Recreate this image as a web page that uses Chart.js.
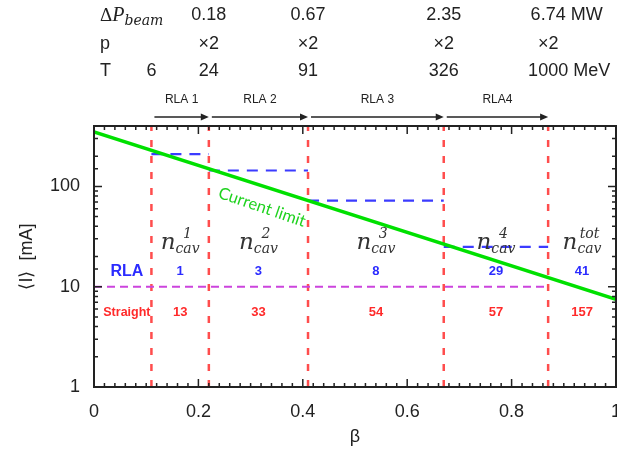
<!DOCTYPE html>
<html>
<head>
<meta charset="utf-8">
<script src="https://cdn.jsdelivr.net/npm/chart.js@4.4.0/dist/chart.umd.min.js"></script>
<style>
  html, body { margin: 0; padding: 0; background: #fff; overflow: hidden; }
  #wrap { position: relative; width: 660px; height: 457px; }
</style>
</head>
<body>
<div id="wrap"><canvas id="chart"></canvas></div>
<script>
// Data
const boundaries = [0.11, 0.22, 0.41, 0.67, 0.87]; // beta at the RLA edges
const energyT = ["6", "24", "91", "326", "1000"]; // T [MeV] at each edge
const beamPower = ["0.18", "0.67", "2.35", "6.74"]; // ΔP_beam [MW]
const momentumGain = ["×2", "×2", "×2", "×2"];
const rlaNames = ["RLA 1", "RLA 2", "RLA 3", "RLA4"];
const rlaCurrent = [210, 144, 72, 25]; // blue dashed levels [mA]
const limitBeta = [0, 1];
const limitCurrent = [350, 7.5]; // current limit [mA]
const straightCurrent = 10;
const cavSuffix = ["1", "2", "3", "4", "tot"];
const rlaCav = ["1", "3", "8", "29", "41"];
const straightCav = ["13", "33", "54", "57", "157"];
const xTickLabels = ["0", "0.2", "0.4", "0.6", "0.8", "1"];
const yTickLabels = ["1", "10", "100"];
const yMin = 1;
const yMax = 400;

const SANS = "'Liberation Sans', Arial, sans-serif";

function isLabelled(list, v) {
  return list.find((l) => Math.abs(Number(l) - v) < 1e-6);
}

// Build the line datasets
function buildDatasets() {
  const sets = [];
  sets.push({
    data: limitBeta.map((b, i) => ({ x: b, y: limitCurrent[i] })),
    borderColor: "#00e000",
    borderWidth: 3.5,
  });
  rlaCurrent.forEach((c, i) => {
    sets.push({
      data: [
        { x: boundaries[i], y: c },
        { x: boundaries[i + 1], y: c },
      ],
      borderColor: "#3b3bff",
      borderWidth: 2.2,
      borderDash: [11, 8],
    });
  });
  sets.push({
    data: [
      { x: 0, y: straightCurrent },
      { x: boundaries[boundaries.length - 1], y: straightCurrent },
    ],
    borderColor: "#cc44dd",
    borderWidth: 2,
    borderDash: [8, 5],
  });
  boundaries.forEach((b) => {
    sets.push({
      data: [
        { x: b, y: yMin },
        { x: b, y: yMax },
      ],
      borderColor: "#ff4d4d",
      borderWidth: 2.5,
      borderDash: [7, 9],
    });
  });
  return sets;
}

// Header: ΔP, p, T rows and the RLA arrows
const headerPlugin = {
  id: "header",
  afterDraw(chart) {
    const { ctx } = chart;
    const x = chart.scales.x;
    ctx.save();
    ctx.fillStyle = "#222";

    // row labels
    ctx.textBaseline = "alphabetic";
    ctx.textAlign = "left";
    ctx.font = "19px 'Liberation Serif', serif";
    ctx.fillText("Δ", 100, 21);
    let w = ctx.measureText("Δ").width;
    ctx.font = "italic 20px 'Liberation Serif', serif";
    ctx.fillText("P", 100 + w, 21);
    w += ctx.measureText("P").width;
    ctx.font = "italic 14px 'DejaVu Serif', serif";
    ctx.fillText("beam", 100 + w, 25);

    ctx.font = "18px " + SANS;
    ctx.textBaseline = "middle";
    ctx.fillText("p", 100, 44);
    ctx.fillText("T", 100, 71);

    function valueAt(text, px, py, unit) {
      ctx.textAlign = "center";
      ctx.fillText(text, px, py);
      if (unit) {
        ctx.textAlign = "left";
        ctx.fillText(" " + unit, px + ctx.measureText(text).width / 2, py);
      }
    }
    beamPower.forEach((v, i) => {
      valueAt(v, x.getPixelForValue(boundaries[i + 1]), 15, i === beamPower.length - 1 ? "MW" : "");
    });
    momentumGain.forEach((v, i) => {
      valueAt(v, x.getPixelForValue(boundaries[i + 1]), 44, "");
    });
    energyT.forEach((v, i) => {
      valueAt(v, x.getPixelForValue(boundaries[i]), 71, i === energyT.length - 1 ? "MeV" : "");
    });

    // arrows
    ctx.font = "12px " + SANS;
    ctx.textAlign = "center";
    ctx.strokeStyle = "#222";
    ctx.lineWidth = 1.5;
    rlaNames.forEach((name, i) => {
      const x0 = x.getPixelForValue(boundaries[i]) + 3;
      const x1 = x.getPixelForValue(boundaries[i + 1]);
      ctx.fillText(name, (x0 + x1) / 2, 100);
      ctx.beginPath();
      ctx.moveTo(x0, 117);
      ctx.lineTo(x1 - 6, 117);
      ctx.stroke();
      ctx.beginPath();
      ctx.moveTo(x1, 117);
      ctx.lineTo(x1 - 8, 113.5);
      ctx.lineTo(x1 - 8, 120.5);
      ctx.closePath();
      ctx.fill();
    });
    ctx.restore();
  },
};

// Text inside the plot
const panelPlugin = {
  id: "panel",
  afterDatasetsDraw(chart) {
    const { ctx } = chart;
    const { x, y } = chart.scales;
    const edges = boundaries.concat([1]);
    ctx.save();

    // n_cav labels
    const nBase = y.getPixelForValue(24);
    cavSuffix.forEach((s, i) => {
      const cx = x.getPixelForValue((edges[i] + edges[i + 1]) / 2);
      ctx.fillStyle = "#333";
      ctx.textBaseline = "alphabetic";
      ctx.textAlign = "left";
      ctx.font = "italic 23px 'DejaVu Serif', serif";
      const wn = ctx.measureText("n").width;
      ctx.font = "italic 14px 'DejaVu Serif', serif";
      const ws = Math.max(ctx.measureText("cav").width, ctx.measureText(s).width);
      const left = cx - (wn + ws) / 2;
      ctx.font = "italic 23px 'DejaVu Serif', serif";
      ctx.fillText("n", left, nBase);
      ctx.font = "italic 14px 'DejaVu Serif', serif";
      ctx.textAlign = "center";
      ctx.fillText(s, left + wn + ws / 2, nBase - 11);
      ctx.fillText("cav", left + wn + ws / 2, nBase + 4);
    });

    // RLA and straight counts
    ctx.textBaseline = "middle";
    ctx.textAlign = "center";
    const rlaY = y.getPixelForValue(14.3);
    const strY = y.getPixelForValue(5.5);
    const firstCol = x.getPixelForValue(0.063);
    ctx.fillStyle = "#2b2bff";
    ctx.font = "bold 16px " + SANS;
    ctx.fillText("RLA", firstCol, rlaY);
    ctx.font = "bold 13px " + SANS;
    rlaCav.forEach((v, i) => {
      ctx.fillText(v, x.getPixelForValue((edges[i] + edges[i + 1]) / 2), rlaY);
    });
    ctx.fillStyle = "#ff2a2a";
    ctx.font = "bold 12.5px " + SANS;
    ctx.fillText("Straight", firstCol, strY);
    ctx.font = "bold 13px " + SANS;
    straightCav.forEach((v, i) => {
      ctx.fillText(v, x.getPixelForValue((edges[i] + edges[i + 1]) / 2), strY);
    });

    // current limit label along the green line
    const p0 = { x: x.getPixelForValue(limitBeta[0]), y: y.getPixelForValue(limitCurrent[0]) };
    const p1 = { x: x.getPixelForValue(limitBeta[1]), y: y.getPixelForValue(limitCurrent[1]) };
    const angle = Math.atan2(p1.y - p0.y, p1.x - p0.x);
    ctx.translate(x.getPixelForValue(0.322), y.getPixelForValue(62));
    ctx.rotate(angle + 0.02);
    ctx.fillStyle = "#1fd21f";
    ctx.font = "16.5px Lato, " + SANS;
    ctx.fillText("Current limit", 0, 0);
    ctx.restore();
  },
};

// Frame with inner ticks on all four sides
const framePlugin = {
  id: "frame",
  afterDatasetsDraw(chart) {
    const { ctx, chartArea: a } = chart;
    const { x, y } = chart.scales;
    ctx.save();
    ctx.strokeStyle = "#222";
    ctx.lineWidth = 1.5;
    ctx.beginPath();
    x.ticks.forEach((t) => {
      const px = x.getPixelForValue(t.value);
      const len = isLabelled(xTickLabels, t.value) ? 8 : 4;
      ctx.moveTo(px, a.bottom);
      ctx.lineTo(px, a.bottom - len);
      ctx.moveTo(px, a.top);
      ctx.lineTo(px, a.top + len);
    });
    y.ticks.forEach((t) => {
      const py = y.getPixelForValue(t.value);
      const len = isLabelled(yTickLabels, t.value) ? 8 : 4;
      ctx.moveTo(a.left, py);
      ctx.lineTo(a.left + len, py);
      ctx.moveTo(a.right, py);
      ctx.lineTo(a.right - len, py);
    });
    ctx.stroke();
    ctx.lineWidth = 2;
    ctx.strokeRect(a.left, a.top, a.right - a.left, a.bottom - a.top);
    ctx.restore();
  },
};

Chart.defaults.font.family = SANS;
Chart.defaults.color = "#222";

const ctx = document.getElementById("chart").getContext("2d");
const chart = new Chart(ctx, {
  type: "line",
  data: { datasets: buildDatasets() },
  options: {
    responsive: true,
    maintainAspectRatio: false,
    animation: false,
    events: [],
    layout: { padding: { top: 126, right: 44, left: 0, bottom: 0 } },
    elements: { point: { radius: 0 }, line: { tension: 0 } },
    plugins: { legend: { display: false }, tooltip: { enabled: false } },
    scales: {
      x: {
        type: "linear",
        min: 0,
        max: 1,
        grid: { display: false, drawTicks: false },
        border: { display: false },
        ticks: {
          stepSize: 0.02,
          maxTicksLimit: 100,
          autoSkip: false,
          maxRotation: 0,
          padding: 14,
          font: { size: 18 },
          callback: (v) => isLabelled(xTickLabels, v) || "",
        },
        title: {
          display: true,
          text: "β",
          font: { size: 18 },
          padding: { top: 0, bottom: 9 },
        },
        afterFit: (scale) => {
          scale.height = 70;
        },
      },
      y: {
        type: "logarithmic",
        min: yMin,
        max: yMax,
        grid: { display: false, drawTicks: false },
        border: { display: false },
        ticks: {
          autoSkip: false,
          padding: 14,
          font: { size: 18 },
          callback: (v) => isLabelled(yTickLabels, v) || "",
        },
        title: {
          display: true,
          text: "⟨I⟩  [mA]",
          font: { size: 18 },
          padding: { top: 16, bottom: 0 },
        },
        afterFit: (scale) => {
          scale.width = 94;
        },
      },
    },
  },
  plugins: [headerPlugin, panelPlugin, framePlugin],
});
</script>
</body>
</html>
